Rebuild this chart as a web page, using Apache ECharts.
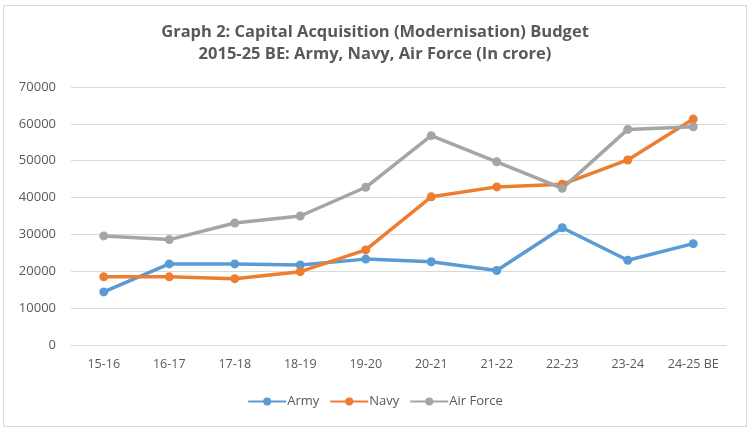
<!DOCTYPE html>
<html><head><meta charset="utf-8">
<script src="https://cdn.jsdelivr.net/npm/echarts@6/dist/echarts.min.js"></script>
<style>html,body{margin:0;padding:0;background:#fff}#c{width:750px;height:431px}</style>
</head><body><div id="c"></div>
<script>
const categories = ['15-16','16-17','17-18','18-19','19-20','20-21','21-22','22-23','23-24','24-25 BE'];
const army = [14400, 22000, 22000, 21700, 23300, 22600, 20200, 31800, 23000, 27500];
const navy = [18500, 18500, 18000, 19900, 25800, 40200, 42900, 43600, 50200, 61300];
const airForce = [29600, 28600, 33100, 35000, 42800, 56800, 49700, 42500, 58500, 59200];
const titleLines = ['Graph 2: Capital Acquisition (Modernisation) Budget', '2015-25 BE: Army, Navy, Air Force (In crore)'];

const chart = echarts.init(document.getElementById('c'), null, {renderer:'canvas'});
const font = '"Open Sans", "Liberation Sans", sans-serif';
function mk(name, data, color){
  return {name, type:'line', data, color, symbol:'circle', symbolSize:9,
    lineStyle:{width:3.5, color}, itemStyle:{color}, z:2};
}
chart.setOption({
  animation:false,
  graphic:[{type:'rect', shape:{x:3.5,y:5.5,width:743,height:421}, style:{fill:'none', stroke:'#d9d9d9', lineWidth:1}, silent:true}],
  title:{text:titleLines.join('\n'), left:'center', top:16,
    textStyle:{fontFamily:font, fontSize:16.5, fontWeight:'bold', color:'#595959', lineHeight:22}},
  legend:{bottom:18, left:'center', itemWidth:38, itemHeight:10, itemGap:10,
    textStyle:{fontFamily:font, fontSize:13, color:'#595959', padding:[0,0,0,-4]},
    data:['Army','Navy','Air Force']},
  grid:{left:71, right:24, top:87, bottom:86},
  xAxis:{type:'category', data:categories, boundaryGap:true,
    axisLine:{show:true, lineStyle:{color:'#d9d9d9', width:1}}, axisTick:{show:false},
    axisLabel:{fontFamily:font, fontSize:12.5, color:'#595959', margin:13, interval:0, hideOverlap:false}},
  yAxis:{type:'value', min:0, max:70000, interval:10000,
    axisLine:{show:false}, axisTick:{show:false},
    splitLine:{lineStyle:{color:'#d9d9d9', width:1}},
    axisLabel:{fontFamily:font, fontSize:13, color:'#595959', margin:15, formatter:v=>String(v)}},
  series:[mk('Army', army, '#5B9BD5'), mk('Navy', navy, '#ED7D31'), mk('Air Force', airForce, '#A5A5A5')]
});
</script></body></html>
